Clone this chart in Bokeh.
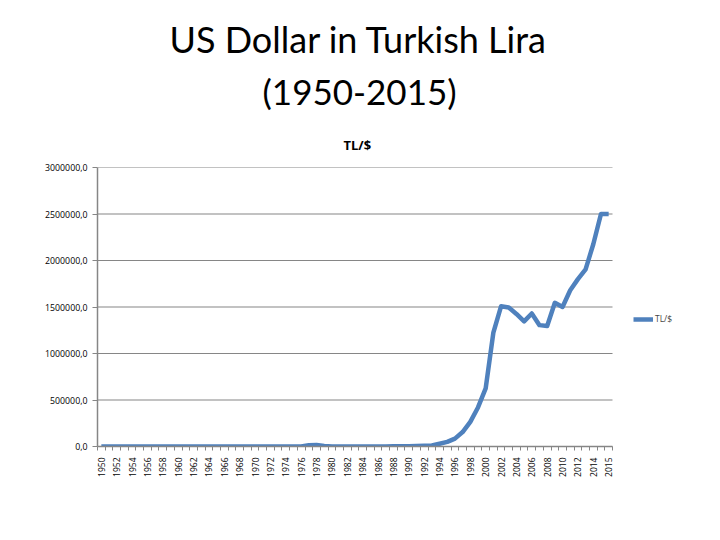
import math
from bokeh.plotting import figure
from bokeh.models import (Range1d, FixedTicker, Title, Legend, LegendItem, ColumnDataSource)
from bokeh.embed import file_html
from bokeh.resources import INLINE

# ---- data ----
year_labels = [str(y) for y in range(1950, 2015)] + ["2015", "2015"]
tl_per_usd = [
    2.8, 2.8, 2.8, 2.8, 2.8, 2.8, 2.8, 2.8, 2.8,            # 1950-1958
    9, 9, 9, 9, 9, 9, 9, 9, 9, 9, 9,                        # 1959-1969
    11.5, 14, 14, 14, 13.9, 14.4, 16,                       # 1970-1976
    14000, 15000, 6000,                                     # 1977-1979
    76, 111, 162, 225, 367, 522, 674, 857, 1422, 2122,      # 1980-1989
    2609, 4172, 6872, 10985, 29609, 50000, 85000,           # 1990-1996
    155000, 265000, 420000, 625000, 1225000, 1507000,       # 1997-2002
    1495000, 1425000, 1345000, 1430000, 1305000, 1295000,   # 2003-2008
    1545000, 1500000, 1680000, 1800000, 1905000, 2175000,   # 2009-2014
    2500000, 2500000,                                       # 2015
]
y_tick_values = [0, 500000, 1000000, 1500000, 2000000, 2500000, 3000000]
y_tick_labels = ["0,0", "500000,0", "1000000,0", "1500000,0", "2000000,0", "2500000,0", "3000000,0"]
series_name = "TL/$"
main_title = ["US Dollar in Turkish Lira", "(1950-2015)"]

idx = list(range(len(tl_per_usd)))
n = len(idx)
src = ColumnDataSource(dict(x=idx, y=tl_per_usd))

W, H = 700, 520
LEFT, RIGHT_END = 97, 690          # frame spans page x 97..690 (plot data area ends at 612)
PLOT_W = 612 - LEFT
frame_w = RIGHT_END - LEFT
x_end = -0.5 + n * frame_w / PLOT_W

p = figure(width=W, height=H, output_backend="svg", toolbar_location=None, title=None,
           x_range=Range1d(-0.5, x_end), y_range=Range1d(0, 3000000),
           min_border_left=LEFT, min_border_right=W - RIGHT_END, min_border_top=167,
           min_border_bottom=74)
p.outline_line_color = None
p.background_fill_color = "white"
p.border_fill_color = "white"

grey = "#868686"
# horizontal gridlines, limited to the category span
p.segment(x0=[-0.5] * len(y_tick_values), x1=[n - 0.5] * len(y_tick_values),
          y0=y_tick_values, y1=y_tick_values, line_color=grey, line_width=1.2)

r = p.line("x", "y", source=src, line_color="#4F81BD", line_width=4.5, line_join="round")

# y axis
p.yaxis.ticker = FixedTicker(ticks=y_tick_values)
p.yaxis.major_label_overrides = {v: l for v, l in zip(y_tick_values, y_tick_labels)}
p.yaxis.axis_line_color = grey
p.yaxis.axis_line_width = 1.5
p.yaxis.major_tick_line_color = grey
p.yaxis.major_tick_out = 5
p.yaxis.major_tick_in = 0
p.yaxis.minor_tick_line_color = None
p.yaxis.major_label_text_font = "Open Sans"
p.yaxis.major_label_text_font_size = "8.8px"
p.yaxis.major_label_text_color = "#000000"
p.yaxis.major_label_standoff = 5

# x axis
label_idx = [i for i in idx if i % 2 == 0]
p.xaxis.ticker = FixedTicker(ticks=label_idx, minor_ticks=[i - 0.5 for i in idx] + [n - 0.5])
p.xaxis.bounds = (-0.5, n - 0.5)
p.xaxis.major_label_overrides = {i: year_labels[i] for i in label_idx}
p.xaxis.major_label_orientation = math.pi / 2
p.xaxis.axis_line_color = grey
p.xaxis.axis_line_width = 1.5
p.xaxis.major_tick_line_color = None
p.xaxis.major_tick_out = 0
p.xaxis.major_tick_in = 0
p.xaxis.minor_tick_line_color = grey
p.xaxis.minor_tick_out = 4
p.xaxis.minor_tick_in = 0
p.xaxis.major_label_text_font = "Open Sans"
p.xaxis.major_label_text_font_size = "8.5px"
p.xaxis.major_label_text_color = "#000000"
p.xaxis.major_label_standoff = 7

p.xgrid.grid_line_color = None
p.ygrid.grid_line_color = None

# titles: first added sits closest to the frame; left-aligned with offsets from the frame's left edge
p.add_layout(Title(text=series_name, align="left", text_font="Open Sans", text_font_size="13px",
                   text_font_style="bold", text_color="#000000", standoff=27, offset=246), "above")
p.add_layout(Title(text=main_title[1], align="left", text_font="Lato", text_font_size="35px",
                   text_font_style="normal", text_color="#000000", standoff=18, offset=165), "above")
p.add_layout(Title(text=main_title[0], align="left", text_font="Lato", text_font_size="36px",
                   text_font_style="normal", text_color="#000000", standoff=-4, offset=72), "above")

legend = Legend(items=[LegendItem(label=series_name, renderers=[r])], location=(536, 122),
                padding=0, margin=0, border_line_color=None, background_fill_alpha=0,
                label_text_font="Open Sans", label_text_font_size="8.5px", glyph_width=20,
                glyph_height=10, label_standoff=2, label_height=10)
p.add_layout(legend)

open("out.html", "w").write(file_html(p, INLINE))
